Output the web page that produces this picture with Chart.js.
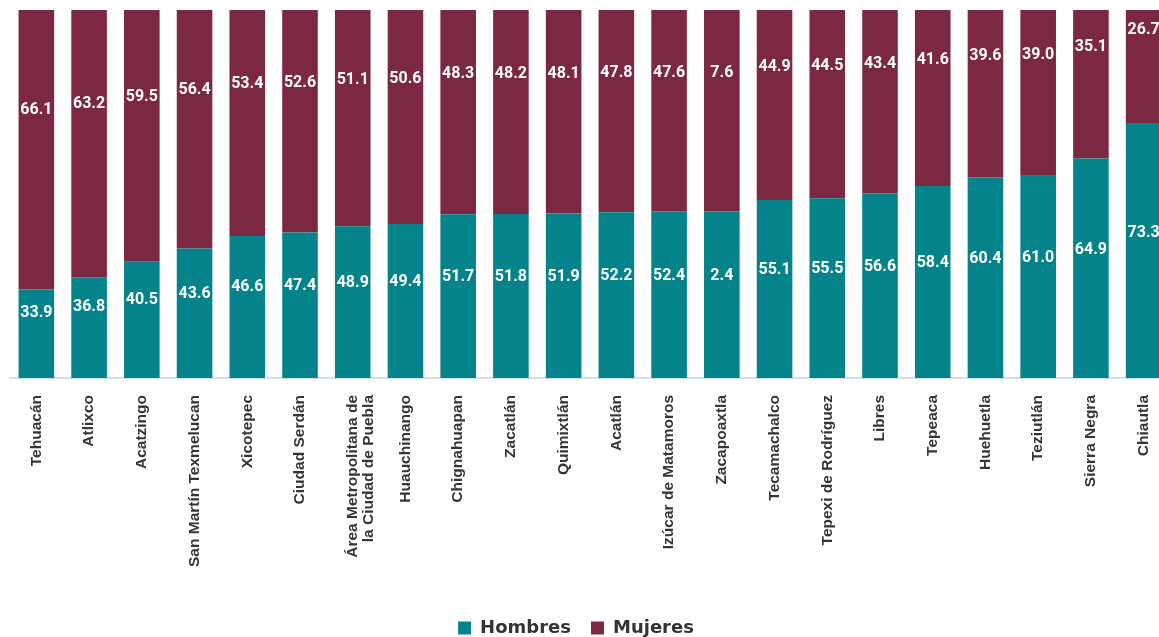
<!DOCTYPE html>
<html>
<head>
<meta charset="utf-8">
<script src="https://cdn.jsdelivr.net/npm/chart.js@4.4.1/dist/chart.umd.min.js"></script>
<style>
    html, body { margin: 0; padding: 0; background: #fff; overflow: hidden; }
    #wrap { width: 1159px; height: 637px; overflow: hidden; }
</style>
</head>
<body>
<div id="wrap"><canvas id="chart" width="1180" height="647"></canvas></div>
<script>
const categorias = [
    'Tehuacán', 'Atlixco', 'Acatzingo', 'San Martín Texmelucan', 'Xicotepec',
    'Ciudad Serdán', ['Área Metropolitana de', 'la Ciudad de Puebla'], 'Huauchinango',
    'Chignahuapan', 'Zacatlán', 'Quimixtlán', 'Acatlán', 'Izúcar de Matamoros',
    'Zacapoaxtla', 'Tecamachalco', 'Tepexi de Rodríguez', 'Libres', 'Tepeaca',
    'Huehuetla', 'Teziutlán', 'Sierra Negra', 'Chiautla'
];
const hombres = [33.9, 36.8, 40.5, 43.6, 46.6, 47.4, 48.9, 49.4, 51.7, 51.8, 51.9,
                 52.2, 52.4, 52.4, 55.1, 55.5, 56.6, 58.4, 60.4, 61.0, 64.9, 73.3];
const mujeres = [66.1, 63.2, 59.5, 56.4, 53.4, 52.6, 51.1, 50.6, 48.3, 48.2, 48.1,
                 47.8, 47.6, 47.6, 44.9, 44.5, 43.4, 41.6, 39.6, 39.0, 35.1, 26.7];
// labels printed differently in the source (index -> [hombres, mujeres])
const etiquetasImpresas = { 13: ['2.4', '7.6'] };

const colorHombres = '#04838b';
const colorMujeres = '#7b2840';

// value labels, centred on each segment using the hidden "yl" scale
const etiquetas = {
    id: 'etiquetas',
    afterLayout(chart) {
        // legend sits a bit left of the canvas centre in the source
        chart.legend.left -= 14;
        chart.legend.right -= 14;
    },
    afterDatasetsDraw(chart) {
        const ctx = chart.ctx;
        const yl = chart.scales.yl;
        ctx.save();
        ctx.font = 'bold 16px Roboto, "Liberation Sans", sans-serif';
        ctx.fillStyle = '#ffffff';
        ctx.textAlign = 'center';
        ctx.textBaseline = 'middle';
        chart.data.datasets.forEach((ds, di) => {
            chart.getDatasetMeta(di).data.forEach((bar, i) => {
                const h = hombres[i];
                const v = di === 0 ? h / 2 : h + mujeres[i] / 2;
                let txt = ds.data[i].toFixed(1);
                if (etiquetasImpresas[i]) txt = etiquetasImpresas[i][di];
                ctx.fillText(txt, bar.x, yl.getPixelForValue(v));
            });
        });
        ctx.restore();
    }
};

new Chart(document.getElementById('chart').getContext('2d'), {
    type: 'bar',
    data: {
        labels: categorias,
        datasets: [
            { label: 'Hombres', data: hombres, backgroundColor: colorHombres },
            { label: 'Mujeres', data: mujeres, backgroundColor: colorMujeres }
        ]
    },
    options: {
        responsive: false,
        animation: false,
        layout: { padding: { left: 10, right: 10, top: 10, bottom: 0 } },
        datasets: { bar: { barPercentage: 0.675, categoryPercentage: 1 } },
        scales: {
            x: {
                stacked: true,
                grid: { display: false, drawTicks: false },
                border: { display: true, color: '#cde3ea', width: 2 },
                ticks: {
                    autoSkip: false,
                    minRotation: 90,
                    maxRotation: 90,
                    padding: 17,
                    color: '#353535',
                    font: { family: '"Liberation Sans", Arial, sans-serif', size: 15.5, weight: 'bold', lineHeight: 1.05 }
                },
                afterFit(scale) { scale.height = 221; }
            },
            y: {
                stacked: true,
                display: false,
                min: 13,
                max: 100
            },
            yl: {
                display: false,
                min: 1,
                max: 91.6
            }
        },
        plugins: {
            tooltip: { enabled: false },
            legend: {
                position: 'bottom',
                labels: {
                    boxWidth: 13,
                    boxHeight: 13,
                    padding: 20,
                    color: '#333333',
                    font: { family: '"DejaVu Sans", sans-serif', size: 18, weight: 'bold' }
                }
            }
        }
    },
    plugins: [etiquetas]
});
</script>
</body>
</html>
